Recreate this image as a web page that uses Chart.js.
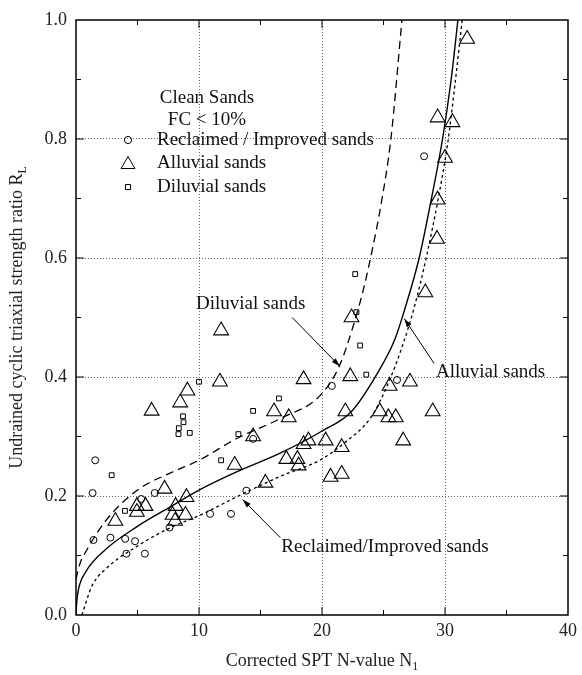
<!DOCTYPE html>
<html>
<head>
<meta charset="utf-8">
<script src="https://cdn.jsdelivr.net/npm/chart.js@4.4.0/dist/chart.umd.min.js"></script>
<style>
    html, body { margin: 0; padding: 0; background: #fff; }
    #wrap { width: 582px; height: 675px; }
</style>
</head>
<body>
<div id="wrap"><canvas id="chart" width="582" height="675"></canvas></div>
<script>
// Reclaimed / improved sands (circles)
const reclaimedX = [1.56, 1.35, 1.42, 2.8, 4.0, 4.8, 4.1, 5.6, 5.3, 6.4, 7.6, 10.9, 12.6, 13.85, 14.4, 20.8, 26.1, 28.3];
const reclaimedY = [0.26, 0.205, 0.126, 0.13, 0.128, 0.124, 0.103, 0.103, 0.195, 0.205, 0.147, 0.17, 0.17, 0.209, 0.296, 0.385, 0.395, 0.771];

// Alluvial sands (triangles)
const alluvialX = [3.2, 4.95, 5.65, 4.95, 6.15, 7.2, 8.1, 7.85, 8.9, 8.06, 8.98, 8.47, 9.06, 11.7, 11.8, 12.9, 14.4, 15.4, 16.1, 17.3,
    17.1, 18.0, 18.1, 18.5, 18.9, 18.5, 20.3, 20.7, 21.6, 21.6, 21.9, 22.3, 22.4, 24.7, 25.4, 26.0, 25.5, 27.15, 26.6, 28.4,
    29.0, 29.35, 29.4, 29.4, 30.0, 30.6, 31.8];
const alluvialY = [0.158, 0.183, 0.183, 0.173, 0.343, 0.212, 0.183, 0.168, 0.168, 0.158, 0.198, 0.357, 0.377, 0.392, 0.478, 0.252, 0.3, 0.222, 0.342, 0.332,
    0.262, 0.262, 0.251, 0.287, 0.293, 0.396, 0.293, 0.232, 0.237, 0.282, 0.342, 0.401, 0.5, 0.342, 0.332, 0.332, 0.385, 0.392, 0.293, 0.542,
    0.342, 0.632, 0.698, 0.836, 0.768, 0.828, 0.968];

// Diluvial sands (squares)
const diluvialX = [10.0, 8.7, 8.74, 8.36, 8.33, 9.25, 2.9, 3.98, 11.8, 13.2, 14.4, 16.5, 22.7, 22.8, 23.1, 23.6];
const diluvialY = [0.392, 0.334, 0.324, 0.314, 0.304, 0.306, 0.235, 0.175, 0.26, 0.304, 0.343, 0.364, 0.573, 0.509, 0.453, 0.404];

// Curves
const dilCurveX = [0, 0.3, 0.9, 2.4, 5.0, 7.7, 10, 13.1, 16.6, 19.9, 21.4, 22.6, 23.4, 24.1, 24.8, 25.6, 26.5];
const dilCurveY = [0.06, 0.085, 0.11, 0.158, 0.21, 0.239, 0.26, 0.297, 0.33, 0.37, 0.418, 0.49, 0.55, 0.615, 0.69, 0.8, 1.0];
const allCurveX = [0, 0.05, 0.2, 0.75, 2.4, 5.0, 7.7, 10, 13.1, 16.6, 19.9, 22.4, 24.5, 25.9, 26.7, 27.9, 28.9, 29.8, 30.5, 31.05];
const allCurveY = [0, 0.02, 0.043, 0.071, 0.11, 0.149, 0.182, 0.21, 0.241, 0.272, 0.308, 0.342, 0.406, 0.462, 0.512, 0.6, 0.7, 0.8, 0.9, 1.0];
const recCurveX = [0.48, 1.3, 2.4, 5.0, 7.7, 10, 13.4, 16.6, 19.9, 21.8, 24.0, 25.5, 26.5, 27.5, 28.5, 29.45, 30.2, 30.8, 31.4];
const recCurveY = [0, 0.049, 0.077, 0.116, 0.147, 0.167, 0.202, 0.233, 0.261, 0.289, 0.333, 0.395, 0.45, 0.517, 0.603, 0.7, 0.79, 0.89, 1.0];

// Tick labels
const xTickLabels = ["0", "10", "20", "30", "40"];
const yTickLabels = ["0.0", "0.2", "0.4", "0.6", "0.8", "1.0"];

const SERIF = "'Liberation Serif', 'DejaVu Serif', serif";

function pts(xs, ys) {
    return xs.map((x, i) => ({ x: x, y: ys[i] }));
}

// annotation labels with arrows (data units)
const notes = [
    { text: "Diluvial sands", tx: 9.76, ty: 0.523, fx: 17.58, fy: 0.5, ex: 21.45, ey: 0.418 },
    { text: "Alluvial sands", tx: 29.27, ty: 0.408, fx: 29.11, fy: 0.423, ex: 26.69, ey: 0.498 },
    { text: "Reclaimed/Improved sands", tx: 16.69, ty: 0.114, fx: 16.61, fy: 0.13, ex: 13.55, ey: 0.194 },
];

const helperPoint = (ctx, style, r, x, y) => {
    ctx.save();
    ctx.strokeStyle = "#000";
    ctx.fillStyle = "rgba(0,0,0,0)";
    ctx.lineWidth = 1;
    Chart.helpers.drawPoint(ctx, { pointStyle: style, radius: r, borderWidth: 1, rotation: 0 }, x, y);
    ctx.restore();
};

// text with a subscript, centred on 0
function subText(ctx, main, sub, size, y) {
    ctx.font = size + "px " + SERIF;
    const w1 = ctx.measureText(main).width;
    ctx.font = Math.round(size * 0.65) + "px " + SERIF;
    const w2 = ctx.measureText(sub).width;
    const x0 = -(w1 + w2) / 2;
    ctx.font = size + "px " + SERIF;
    ctx.fillText(main, x0, y);
    ctx.font = Math.round(size * 0.65) + "px " + SERIF;
    ctx.fillText(sub, x0 + w1, y + 4);
}

// frame, inward ticks, legend, notes, axis titles
const decorPlugin = {
    id: "decor",
    afterDatasetsDraw(chart) {
        const ctx = chart.ctx;
        const a = chart.chartArea;
        const xs = chart.scales.x, ys = chart.scales.y;

        ctx.save();
        ctx.strokeStyle = "#000";
        ctx.lineWidth = 1.5;
        ctx.strokeRect(a.left, a.top, a.right - a.left, a.bottom - a.top);

        ctx.lineWidth = 1;
        ctx.beginPath();
        for (let v = 5; v < 40; v += 5) {
            const px = xs.getPixelForValue(v);
            const len = v % 10 === 0 ? 8 : 5;
            ctx.moveTo(px, a.bottom); ctx.lineTo(px, a.bottom - len);
            ctx.moveTo(px, a.top); ctx.lineTo(px, a.top + len);
        }
        for (let k = 1; k < 10; k++) {
            const py = ys.getPixelForValue(k / 10);
            const len = k % 2 === 0 ? 8 : 5;
            ctx.moveTo(a.left, py); ctx.lineTo(a.left + len, py);
            ctx.moveTo(a.right, py); ctx.lineTo(a.right - len, py);
        }
        ctx.stroke();

        // legend
        ctx.fillStyle = "#111";
        ctx.font = "19px " + SERIF;
        ctx.textBaseline = "middle";
        ctx.textAlign = "center";
        ctx.fillText("Clean Sands", a.left + 131, a.top + 78);
        ctx.fillText("FC < 10%", a.left + 131, a.top + 100);
        ctx.textAlign = "left";
        const legend = [
            ["circle", 3.6, "Reclaimed / Improved sands"],
            ["triangle", 8, "Alluvial sands"],
            ["rect", 3.6, "Diluvial sands"],
        ];
        legend.forEach((l, i) => {
            const ly = a.top + 120 + i * 23.5;
            helperPoint(ctx, l[0], l[1], a.left + 52, ly + (l[0] === "triangle" ? 1 : 0));
            ctx.fillText(l[2], a.left + 81, ly);
        });

        // notes with arrows
        notes.forEach(n => {
            ctx.fillStyle = "#111";
            ctx.fillText(n.text, xs.getPixelForValue(n.tx), ys.getPixelForValue(n.ty));
            const x1 = xs.getPixelForValue(n.fx), y1 = ys.getPixelForValue(n.fy);
            const x2 = xs.getPixelForValue(n.ex), y2 = ys.getPixelForValue(n.ey);
            ctx.strokeStyle = "#000";
            ctx.lineWidth = 1;
            ctx.beginPath();
            ctx.moveTo(x1, y1); ctx.lineTo(x2, y2);
            ctx.stroke();
            const ang = Math.atan2(y2 - y1, x2 - x1);
            ctx.fillStyle = "#000";
            ctx.beginPath();
            ctx.moveTo(x2, y2);
            ctx.lineTo(x2 - 9 * Math.cos(ang - 0.3), y2 - 9 * Math.sin(ang - 0.3));
            ctx.lineTo(x2 - 9 * Math.cos(ang + 0.3), y2 - 9 * Math.sin(ang + 0.3));
            ctx.closePath();
            ctx.fill();
        });

        // axis titles with subscripts
        ctx.fillStyle = "#222";
        ctx.textBaseline = "alphabetic";
        ctx.save();
        ctx.translate((a.left + a.right) / 2, 666);
        subText(ctx, "Corrected SPT N-value N", "1", 18, 0);
        ctx.restore();

        ctx.translate(22, (a.top + a.bottom) / 2);
        ctx.rotate(-Math.PI / 2);
        subText(ctx, "Undrained cyclic triaxial strength ratio R", "L", 18, 0);
        ctx.restore();
    }
};

const hollow = "rgba(0,0,0,0)";

new Chart(document.getElementById("chart"), {
    type: "scatter",
    data: {
        datasets: [
            {
                label: "Diluvial curve",
                type: "line",
                data: pts(dilCurveX, dilCurveY),
                borderColor: "#000",
                borderWidth: 1.3,
                borderDash: [8, 5],
                pointRadius: 0,
                cubicInterpolationMode: "monotone",
                fill: false,
            },
            {
                label: "Alluvial curve",
                type: "line",
                data: pts(allCurveX, allCurveY),
                borderColor: "#000",
                borderWidth: 1.4,
                pointRadius: 0,
                cubicInterpolationMode: "monotone",
                fill: false,
            },
            {
                label: "Reclaimed curve",
                type: "line",
                data: pts(recCurveX, recCurveY),
                borderColor: "#000",
                borderWidth: 1.3,
                borderDash: [3, 3],
                pointRadius: 0,
                cubicInterpolationMode: "monotone",
                fill: false,
            },
            {
                label: "Reclaimed / Improved sands",
                data: pts(reclaimedX, reclaimedY),
                pointStyle: "circle",
                pointRadius: 3.5,
                borderColor: "#000",
                borderWidth: 1,
                backgroundColor: hollow,
            },
            {
                label: "Alluvial sands",
                data: pts(alluvialX, alluvialY),
                pointStyle: "triangle",
                pointRadius: 8.5,
                borderColor: "#000",
                borderWidth: 1.1,
                backgroundColor: hollow,
            },
            {
                label: "Diluvial sands",
                data: pts(diluvialX, diluvialY),
                pointStyle: "rect",
                pointRadius: 3.4,
                borderColor: "#000",
                borderWidth: 1,
                backgroundColor: hollow,
            },
        ],
    },
    options: {
        responsive: false,
        animation: false,
        layout: { padding: { top: 20, right: 11, left: 0, bottom: 0 } },
        plugins: {
            legend: { display: false },
            tooltip: { enabled: false },
        },
        scales: {
            x: {
                type: "linear",
                min: 0,
                max: 40,
                afterFit: s => { s.height = 60; },
                ticks: {
                    stepSize: 5,
                    autoSkip: false,
                    maxRotation: 0,
                    padding: 5,
                    color: "#222",
                    font: { family: SERIF, size: 18 },
                    callback: v => (v % 10 === 0 ? xTickLabels[v / 10] : ""),
                },
                grid: {
                    drawTicks: false,
                    lineWidth: 1,
                    color: c => (c.tick && c.tick.value % 10 === 0 && c.tick.value > 0 && c.tick.value < 40 ? "#666" : "rgba(0,0,0,0)"),
                },
                border: { display: false, dash: [1, 2] },
            },
            y: {
                type: "linear",
                min: 0,
                max: 1,
                afterFit: s => { s.width = 76; },
                ticks: {
                    stepSize: 0.1,
                    autoSkip: false,
                    padding: 9,
                    color: "#222",
                    font: { family: SERIF, size: 18 },
                    callback: v => {
                        const k = Math.round(v * 10);
                        return k % 2 === 0 ? yTickLabels[k / 2] : "";
                    },
                },
                grid: {
                    drawTicks: false,
                    lineWidth: 1,
                    color: c => {
                        if (!c.tick) return "rgba(0,0,0,0)";
                        const k = Math.round(c.tick.value * 10);
                        return k % 2 === 0 && k > 0 && k < 10 ? "#666" : "rgba(0,0,0,0)";
                    },
                },
                border: { display: false, dash: [1, 2] },
            },
        },
    },
    plugins: [decorPlugin],
});
</script>
</body>
</html>
